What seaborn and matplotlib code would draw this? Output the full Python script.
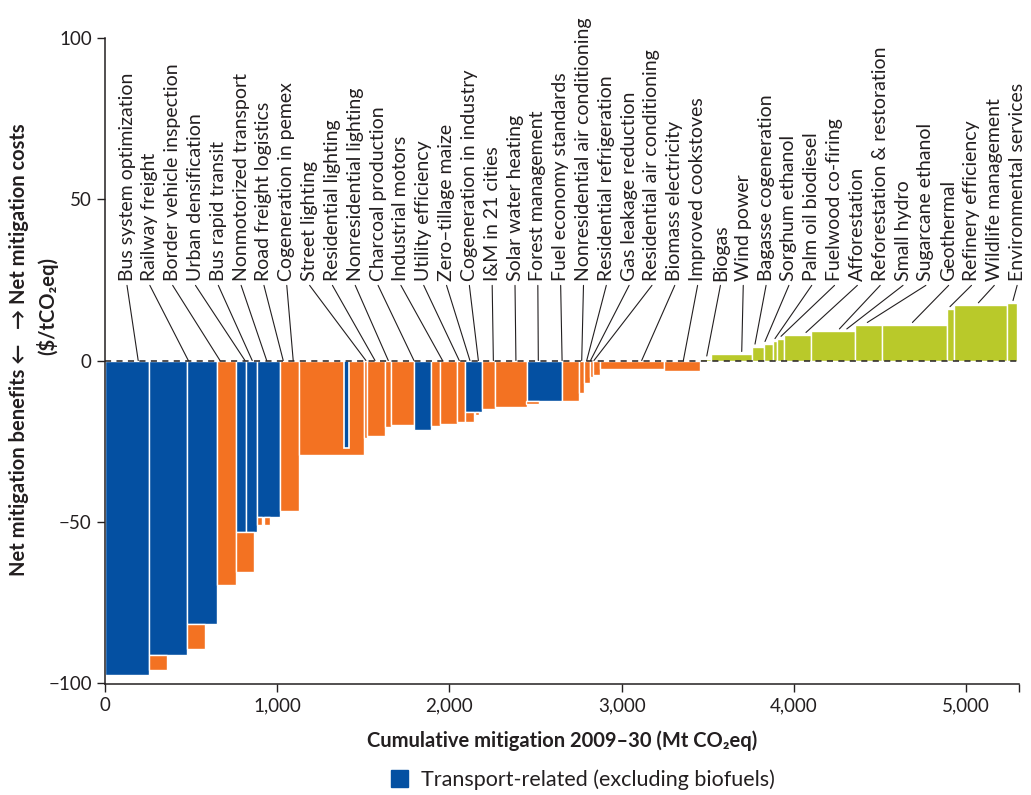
import numpy as np
import matplotlib.pyplot as plt
import seaborn as sns
from matplotlib.patches import Patch
from matplotlib.ticker import FuncFormatter

# abatement measures, left to right (width = Mt CO2eq, cost = $/tCO2eq)
widths = [254, 220, 176, 109, 58, 66, 131, 114, 374, 18, 106, 35, 133, 101, 48,
          103, 43, 100, 77, 184, 202, 102, 29, 31, 20, 38, 374, 209,
          64, 240, 68, 52, 25, 39, 155, 257, 155, 381, 37, 311, 55]
costs = [-97.4, -91.2, -81.8, -69.7, -53.1, -53.1, -48.4, -46.6, -29.3, -24.0, -23.3,
         -20.6, -20.0, -21.5, -20.2, -19.7, -19.1, -16.1, -15.1, -14.3, -12.6, -12.6,
         -10.1, -7.0, -5.2, -4.4, -2.6, -3.1,
         0.6, 2.0, 4.3, 5.1, 6.0, 6.7, 7.9, 9.0, 11.0, 11.0, 15.9, 17.1, 17.8]
kinds = ["T", "T", "T", "O", "T", "T", "T", "O", "O", "O", "O", "O", "O", "T", "O",
         "O", "O", "T", "O", "O", "T", "O", "O", "O", "O", "O", "O", "O",
         "G", "G", "G", "G", "G", "G", "G", "G", "G", "G", "G", "G", "G"]

# extra non-transport part sitting below some transport bars
ext_start = [254, 474, 759, 883, 921, 2089, 2150, 2443]
ext_width = [105, 107, 108, 29, 39, 54, 20, 79]
ext_top = [-91.2, -81.8, -53.1, -48.4, -48.4, -16.1, -16.1, -12.6]
ext_bottom = [-96.0, -89.4, -65.7, -51.0, -51.0, -19.1, -17.0, -13.6]

# thin transport bar drawn inside street lighting
inset_start, inset_width, inset_cost = 1388, 29, -27.0

names = ["Bus system optimization", "Railway freight", "Border vehicle inspection",
         "Urban densification", "Bus rapid transit", "Nonmotorized transport",
         "Road freight logistics", "Cogeneration in pemex", "Street lighting",
         "Residential lighting", "Nonresidential lighting", "Charcoal production",
         "Industrial motors", "Utility efficiency", "Zero\u2013tillage maize",
         "Cogeneration in industry", "I&M in 21 cities", "Solar water heating",
         "Forest management", "Fuel economy standards",
         "Nonresidential air conditioning", "Residential refrigeration",
         "Gas leakage reduction", "Residential air conditioning", "Biomass electricity",
         "Improved cookstoves", "Biogas", "Wind power", "Bagasse cogeneration",
         "Sorghum ethanol", "Palm oil biodiesel", "Fuelwood co-firing", "Afforestation",
         "Reforestation & restoration", "Small hydro", "Sugarcane ethanol", "Geothermal",
         "Refinery efficiency", "Wildlife management", "Environmental services"]
# where each leader line touches the curve (Mt CO2eq)
anchors = [193, 484, 668, 813, 855, 939, 1035, 1093, 1515, 1568, 1645, 1794, 1960,
           2057, 2119, 2168, 2255, 2386, 2516, 2654, 2768, 2797, 2819, 2839, 3116,
           3358, 3494, 3697, 3774, 3832, 3890, 3925, 4070, 4264, 4307, 4426, 4688,
           4906, 5071, 5272]

palette = {"T": "#0450a2", "O": "#f37222", "G": "#b9c92a"}
ink = "#231f20"

sns.set_theme(style="ticks")
plt.rcParams["font.family"] = ["Lato", "DejaVu Sans"]

fig = plt.figure(figsize=(10.31, 7.95), dpi=100)
ax = fig.add_axes([0.1018, 0.1396, 0.8866, 0.8126])

edges = np.concatenate([[0], np.cumsum(widths)])
ax.bar(edges[:-1], costs, width=widths, align="edge",
       color=[palette[k] for k in kinds], edgecolor="white", linewidth=1.0, zorder=2)
ax.bar(ext_start, np.array(ext_bottom) - np.array(ext_top), width=ext_width,
       bottom=ext_top, align="edge", color=palette["O"], edgecolor="white",
       linewidth=1.0, zorder=2)
ax.bar(inset_start, inset_cost, width=inset_width, align="edge", color=palette["T"],
       edgecolor="white", linewidth=1.2, zorder=3)

ax.axhline(0, color=ink, lw=1.1, ls=(0, (4, 3.5)), zorder=5)

# rotated labels with leader lines
label_x = np.linspace(128, 5296, len(names))
for lx, name, a in zip(label_x, names, anchors):
    i = min(np.searchsorted(edges, a, side="right") - 1, len(costs) - 1)
    tip = costs[i] + 0.8 if costs[i] > 0 else 0
    ax.plot([lx, a], [23.3, tip], color=ink, lw=0.8, zorder=4)
    ax.text(lx, 24.6, name, rotation=90, ha="center", va="bottom",
            fontsize=14, color=ink)

ax.set_xlim(0, 5307)
ax.set_ylim(-100.3, 100)
ax.set_xticks(range(0, 6000, 1000))
ax.set_xticks([5307], minor=True)
ax.set_yticks([-100, -50, 0, 50, 100])
ax.xaxis.set_major_formatter(FuncFormatter(lambda v, p: f"{int(v):,}"))
ax.tick_params(axis="both", which="both", direction="out", length=6, width=1,
               color=ink, labelcolor=ink, labelsize=13.5)
sns.despine(ax=ax)
for s in ("left", "bottom"):
    ax.spines[s].set_color(ink)
    ax.spines[s].set_linewidth(1.1)

ax.set_xlabel("Cumulative mitigation 2009\u201330 (Mt CO\u2082eq)", fontsize=14.5,
              fontweight="bold", color=ink, labelpad=12)
fig.text(0.018, 0.56, "Net mitigation benefits \u2190   \u2192 Net mitigation costs",
         rotation=90, ha="center", va="center", fontsize=14.5, fontweight="bold", color=ink)
fig.text(0.046, 0.615, "($/tCO\u2082eq)", rotation=90, ha="center", va="center",
         fontsize=14.5, fontweight="bold", color=ink)

fig.legend(handles=[Patch(color=palette["T"], label="Transport-related (excluding biofuels)")],
           loc="center", bbox_to_anchor=(0.565, 0.019), frameon=False, fontsize=15.5,
           handlelength=0.8, handleheight=0.8, handletextpad=0.6, labelcolor=ink)

fig.savefig("out.png", dpi=100)
